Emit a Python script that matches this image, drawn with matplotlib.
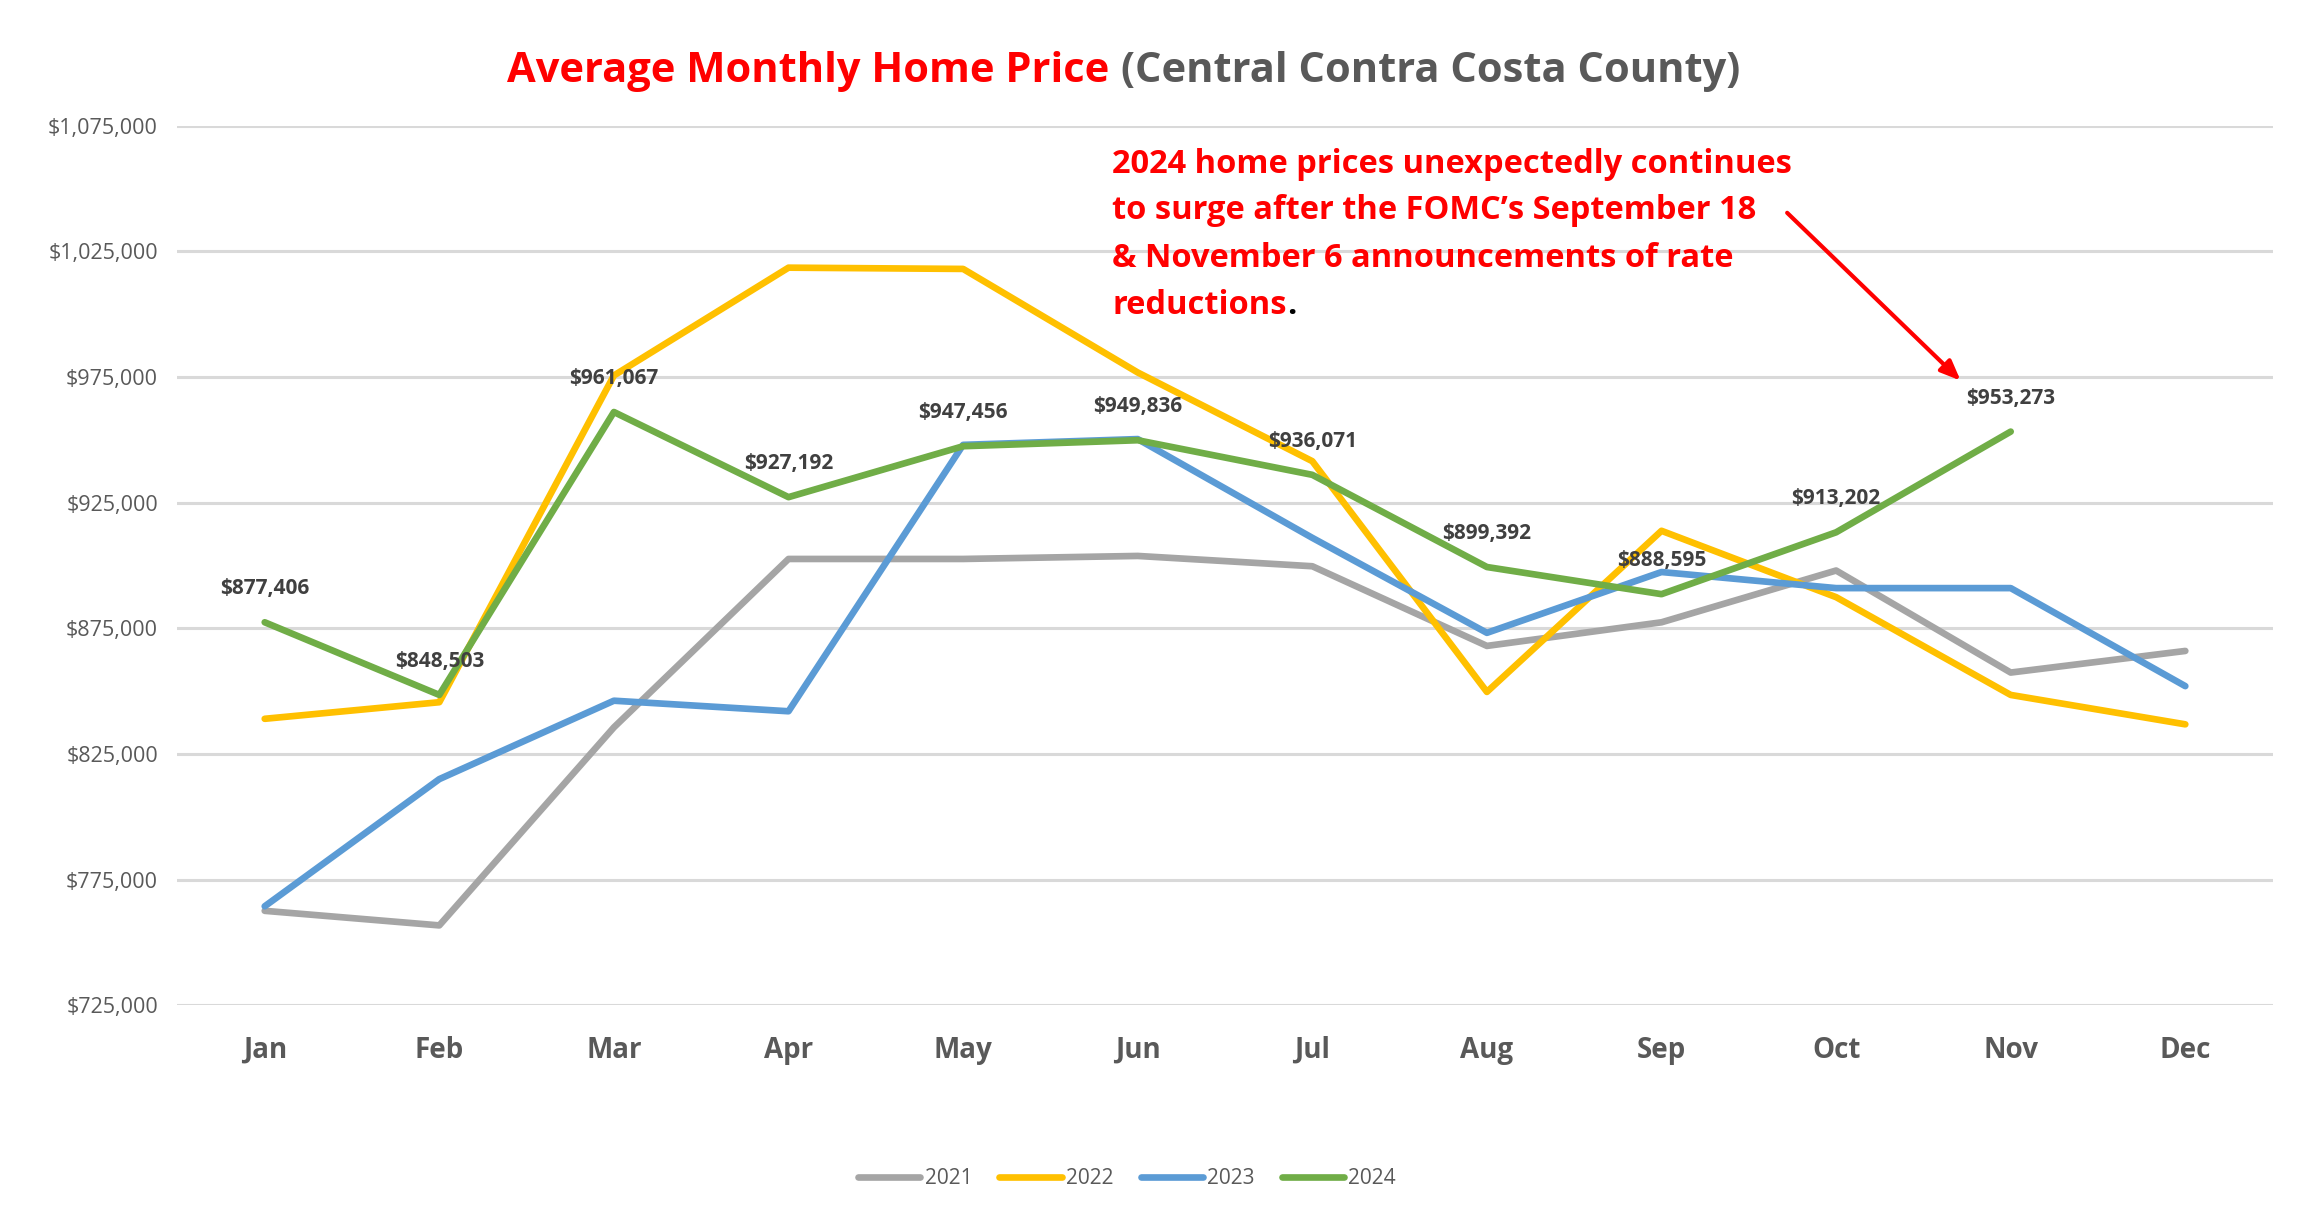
import numpy as np
import matplotlib
matplotlib.use("Agg")
import matplotlib.pyplot as plt
from matplotlib import font_manager

# pick a narrow-ish font close to Calibri
names = {f.name for f in font_manager.fontManager.ttflist}
fam = "Liberation Sans Narrow" if "Liberation Sans Narrow" in names else "Open Sans"
plt.rcParams['font.family'] = [fam, 'DejaVu Sans']

months = ["Jan", "Feb", "Mar", "Apr", "May", "Jun", "Jul", "Aug", "Sep", "Oct", "Nov", "Dec"]
y2021 = [762600, 756800, 835600, 902600, 902600, 903800, 899700, 868000, 877400, 898000, 857400, 866000]
y2022 = [839000, 845600, 975600, 1018500, 1018000, 976800, 941500, 849700, 913800, 887400, 848500, 836800]
y2023 = [764400, 815000, 846200, 842000, 948000, 950300, 911000, 873200, 897400, 891000, 891000, 852000]
y2024 = [877406, 848503, 961067, 927192, 947456, 949836, 936071, 899392, 888595, 913202, 953273]
yticks = [725000, 775000, 825000, 875000, 925000, 975000, 1025000, 1075000]

fig = plt.figure(figsize=(23.19, 12.26), dpi=100)
ax = fig.add_axes([0.0765, 0.18, 0.9035, 0.7175])

x = np.arange(len(months))
ax.plot(x, y2021, color="#A5A5A5", lw=4.8, label="2021", solid_capstyle="round")
ax.plot(x, y2022, color="#FFC000", lw=4.8, label="2022", solid_capstyle="round")
ax.plot(x, y2023, color="#5B9BD5", lw=4.8, label="2023", solid_capstyle="round")
ax.plot(x[:len(y2024)], y2024, color="#70AD47", lw=4.8, label="2024", solid_capstyle="round")

for xi, v in zip(x, y2024):
    ax.annotate(f"${v:,.0f}", (xi, v), xytext=(0, 24), textcoords="offset points",
                ha="center", va="center", fontsize=15, fontweight="bold", color="#404040")

ax.set_xlim(-0.5, 11.5)
ax.set_ylim(725000, 1075000)
ax.set_yticks(yticks)
ax.set_yticklabels([f"${t:,.0f}" for t in yticks], color="#595959", fontsize=15.5)
ax.set_xticks(x)
ax.set_xticklabels(months, fontsize=20, fontweight="bold", color="#595959")
ax.tick_params(length=0, axis="x", pad=22)
ax.tick_params(length=0, axis="y", pad=14)
ax.grid(axis="y", color="#D9D9D9", lw=2.2)
ax.set_axisbelow(True)
for s in ax.spines.values():
    s.set_visible(False)

# title in two colours
fig.text(0.4832, 0.942, "Average Monthly Home Price ", color="#FF0000", fontsize=30,
         fontweight="bold", ha="right", va="center")
fig.text(0.4832, 0.942, "(Central Contra Costa County)", color="#595959", fontsize=30,
         fontweight="bold", ha="left", va="center")

note = ["2024 home prices unexpectedly continues",
        "to surge after the FOMC\u2019s September 18",
        "& November 6 announcements of rate",
        "reductions"]
ty = [0.866, 0.828, 0.789, 0.751]
for line, yy in zip(note, ty):
    t = fig.text(0.4796, yy, line, color="#FF0000", fontsize=23.5, fontweight="bold", va="center")
fig.canvas.draw()
bb = t.get_window_extent()
fig.text(bb.x1 / fig.bbox.width, ty[-1], ".", color="#000000", fontsize=23.5, fontweight="bold", va="center")

ax.annotate("", xy=(0.8463, 0.688), xytext=(0.7698, 0.828), xycoords="figure fraction",
            arrowprops=dict(arrowstyle="-|>,head_width=0.5,head_length=1.2", color="#FF0000", lw=3))

ax.legend(loc="center", bbox_to_anchor=(0.486, 0.0386), bbox_transform=fig.transFigure,
          ncol=4, frameon=False, fontsize=15, handlelength=3.0, handletextpad=0.2,
          columnspacing=1.3, labelcolor="#595959")

fig.savefig("out.png", dpi=100)
